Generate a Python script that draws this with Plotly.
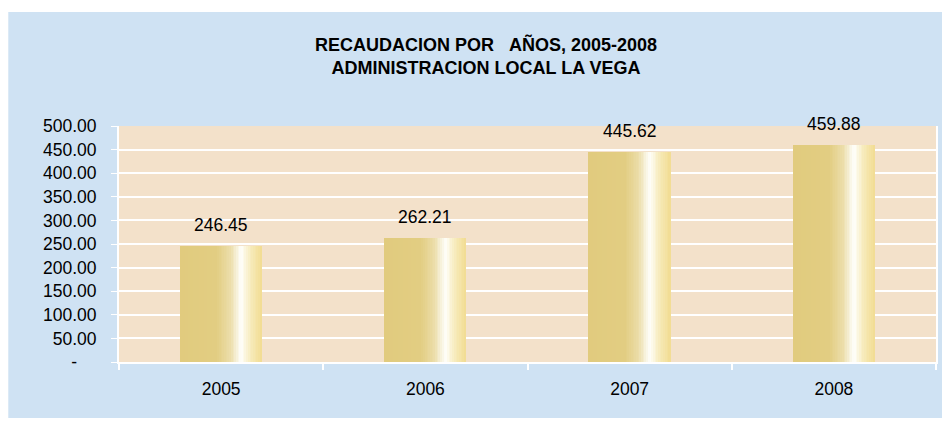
import plotly.graph_objects as go

# ---- data ----
years = ["2005", "2006", "2007", "2008"]
values = [246.45, 262.21, 445.62, 459.88]
value_labels = ["246.45", "262.21", "445.62", "459.88"]
ytick_vals = [0, 50, 100, 150, 200, 250, 300, 350, 400, 450, 500]
ytick_text = ["-\u00a0\u00a0\u00a0\u00a0", "50.00", "100.00", "150.00", "200.00", "250.00",
              "300.00", "350.00", "400.00", "450.00", "500.00"]
title_lines = ["RECAUDACION POR\u00a0\u00a0\u00a0AÑOS, 2005-2008", "ADMINISTRACION LOCAL LA VEGA"]

# ---- style ----
FONT = "Liberation Sans, Arial, sans-serif"
BLUE = "#CFE2F3"
BEIGE = "#F3E1CA"
BAR_WIDTH = 0.4
N_STRIPS = 48
W, H = 942, 414
L, R, T, B = 111, 12, 118, 60
PW, PH = W - L - R, H - T - B
# gradient stops across the bar width (fraction, rgb)
stops = [(0.0, (225, 203, 126)), (0.45, (226, 205, 130)), (0.62, (236, 222, 170)),
         (0.75, (255, 255, 252)), (0.86, (247, 236, 190)), (1.0, (242, 220, 146))]


def grad_color(t):
    for (t0, c0), (t1, c1) in zip(stops[:-1], stops[1:]):
        if t0 <= t <= t1:
            f = (t - t0) / (t1 - t0) if t1 > t0 else 0
            c = [round(a + (b - a) * f) for a, b in zip(c0, c1)]
            return "rgb(%d,%d,%d)" % tuple(c)
    return "rgb(%d,%d,%d)" % stops[-1][1]


fig = go.Figure()
sw = BAR_WIDTH / N_STRIPS
for i in range(N_STRIPS):
    t = (i + 0.5) / N_STRIPS
    fig.add_trace(go.Bar(
        x=years, y=values,
        width=sw * 1.06, offset=-BAR_WIDTH / 2 + i * sw,
        marker=dict(color=grad_color(t), line=dict(width=0)),
        hoverinfo="skip", showlegend=False,
    ))

for idx, (v, lab) in enumerate(zip(values, value_labels)):
    fig.add_annotation(x=idx, y=v, text=lab, showarrow=False, yshift=21,
                       yanchor="middle", font=dict(family=FONT, size=17.5, color="#000"))

fig.add_shape(type="rect", xref="paper", yref="paper", layer="below",
              x0=-L / PW, x1=1 + R / PW, y0=-(H - 4 - (T + PH)) / PH, y1=1 + (T - 4) / PH,
              fillcolor=BLUE, line=dict(width=0))
fig.add_shape(type="rect", xref="x domain", yref="y domain", layer="below",
              x0=0, x1=1, y0=0, y1=1, fillcolor=BEIGE, line=dict(width=0))

fig.update_layout(
    width=W, height=H,
    margin=dict(l=L, r=R, t=T, b=B),
    paper_bgcolor="white", plot_bgcolor=BEIGE,
    barmode="overlay", bargap=0,
    font=dict(family=FONT, size=17.5, color="#000"),
    title=dict(text="<br>".join(title_lines), x=478 / W, xanchor="center",
               y=1 - 43 / H, yanchor="middle",
               font=dict(family=FONT, size=18, color="#000", weight="bold")),
)
fig.update_xaxes(
    type="category", range=[-0.5, 3.5],
    showline=True, linecolor="white", linewidth=2, mirror=False,
    ticks="outside", tickson="boundaries", ticklen=6, tickcolor="white", tickwidth=2,
    showgrid=False, ticklabelstandoff=10,
    tickfont=dict(family=FONT, size=17.5, color="#000"),
)
fig.update_yaxes(
    range=[0, 500], tickvals=ytick_vals, ticktext=ytick_text,
    showline=True, linecolor="white", linewidth=2, mirror=True,
    ticks="outside", ticklen=6, tickcolor="white", tickwidth=1,
    showgrid=True, gridcolor="white", gridwidth=1.5, zeroline=False,
    ticklabelstandoff=11,
    tickfont=dict(family=FONT, size=17.5, color="#000"),
)

fig.write_html("out.html")
